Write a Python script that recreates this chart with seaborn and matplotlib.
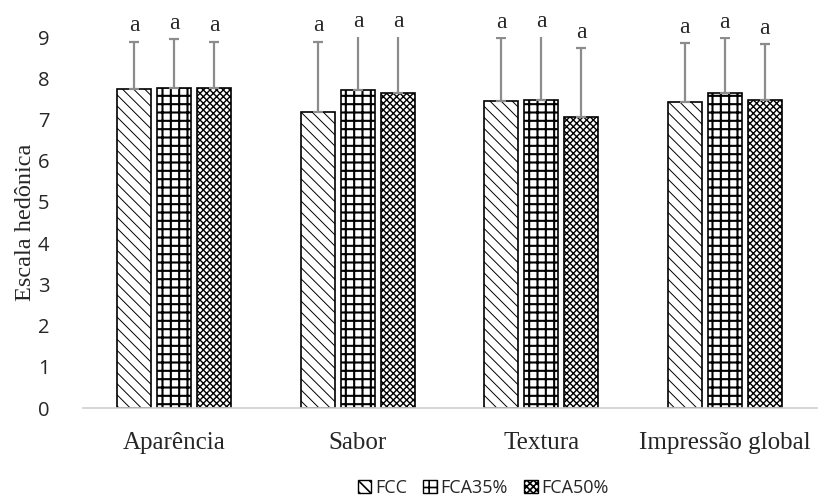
"""
Teste de aceitação sensorial: escala hedônica por atributo e formulação.
"""
import numpy as np
import pandas as pd
import matplotlib
matplotlib.use('Agg')
import matplotlib.pyplot as plt
from matplotlib.patches import Patch
import seaborn as sns

# Dados
atributos = ['Aparência', 'Sabor', 'Textura', 'Impressão global']
formulacoes = ['FCC', 'FCA35%', 'FCA50%']
media_fcc = [7.74, 7.19, 7.44, 7.43]
media_fca35 = [7.76, 7.72, 7.47, 7.64]
media_fca50 = [7.76, 7.64, 7.07, 7.48]
dp_fcc = [1.15, 1.70, 1.54, 1.43]
dp_fca35 = [1.18, 1.40, 1.60, 1.34]
dp_fca50 = [1.13, 1.45, 1.66, 1.34]
letras = ['a', 'a', 'a']  # mesma letra para todos os grupos

medias = [media_fcc, media_fca35, media_fca50]
desvios = [dp_fcc, dp_fca35, dp_fca50]

df = pd.DataFrame({
    'Atributo': np.tile(atributos, len(formulacoes)),
    'Formulação': np.repeat(formulacoes, len(atributos)),
    'Média': np.concatenate(medias),
})

sns.set_style('white')
plt.rcParams['hatch.linewidth'] = 1.2

fig = plt.figure(figsize=(8.19, 5), dpi=100)
ax = fig.add_axes([0.101, 0.184, 0.896, 0.742])

sns.barplot(data=df, x='Atributo', y='Média', hue='Formulação',
            order=atributos, hue_order=formulacoes,
            palette=['white'] * 3, edgecolor='black', linewidth=1.2,
            width=0.654, gap=0.15, errorbar=None, legend=False, ax=ax)

hachuras = ['\\\\\\', '++', 'xxxxx']
espessuras = [0.7, 1.5, 1.0]
y_max = 9
for container, hatch, lw, med, dp in zip(ax.containers, hachuras, espessuras, medias, desvios):
    xs = []
    for patch in container:
        patch.set_hatch(hatch)
        if hasattr(patch, 'set_hatch_linewidth'):
            patch.set_hatch_linewidth(lw)
        xs.append(patch.get_x() + patch.get_width() / 2)
    ax.errorbar(xs, med, yerr=[np.zeros(len(dp)), dp], fmt='none',
                ecolor='#8c8c8c', elinewidth=1.6, capsize=3.5, capthick=1.6)
    for x, m, s in zip(xs, med, dp):
        ax.text(x, min(m + s, y_max) + 0.38, letras[0], ha='center', va='center',
                fontsize=17, family='Liberation Serif')

ax.set_ylim(0, y_max)
ax.set_yticks(range(0, 10))
ax.set_xlim(-0.5, len(atributos) - 0.5)
ax.tick_params(axis='y', labelsize=14.5, pad=24, length=0)
ax.tick_params(axis='x', labelsize=18, pad=17, length=0)
for lbl in ax.get_yticklabels():
    lbl.set_family('Open Sans')
for lbl in ax.get_xticklabels():
    lbl.set_family('Liberation Serif')
ax.set_xlabel('')
ax.set_ylabel('Escala hedônica', fontsize=17.5, family='Liberation Serif', labelpad=1)

sns.despine(ax=ax, left=True)
ax.spines['bottom'].set_color('#d0d0d0')
ax.spines['bottom'].set_linewidth(1.2)

handles = [Patch(facecolor='white', edgecolor='black', hatch=h, label=f)
           for h, f in zip(hachuras, formulacoes)]
fig.legend(handles=handles, loc='center', bbox_to_anchor=(0.59, 0.024), ncol=3,
           frameon=False, handlelength=0.75, handleheight=0.75, handletextpad=0.2,
           columnspacing=0.9, prop={'family': 'Open Sans', 'size': 13})

fig.savefig('out.png', dpi=100)
